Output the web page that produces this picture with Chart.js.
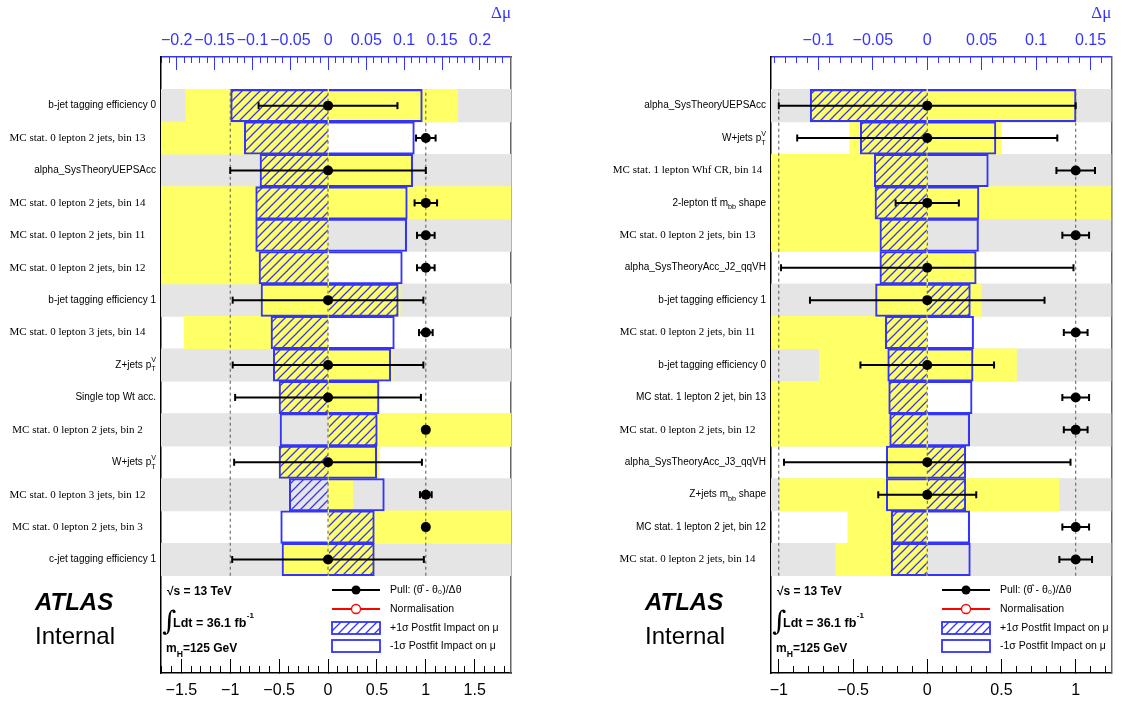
<!DOCTYPE html>
<html><head><meta charset="utf-8">
<script src="https://cdn.jsdelivr.net/npm/chart.js@4.4.1/dist/chart.umd.min.js"></script>
<style>
html,body{margin:0;padding:0;background:#fff;}
body{width:1126px;height:704px;position:relative;overflow:hidden;}
canvas{position:absolute;top:0;}
#c1{left:0}
#c2{left:563px}
</style></head><body>
<canvas id="c1" width="563" height="704"></canvas>
<canvas id="c2" width="563" height="704"></canvas>
<script>
// ---------------- DATA ----------------
const leftLabels = ['b-jet tagging efficiency 0', 'MC stat. 0 lepton 2 jets, bin 13', 'alpha_SysTheoryUEPSAcc',
  'MC stat. 0 lepton 2 jets, bin 14', 'MC stat. 0 lepton 2 jets, bin 11', 'MC stat. 0 lepton 2 jets, bin 12',
  'b-jet tagging efficiency 1', 'MC stat. 0 lepton 3 jets, bin 14', 'Z+jets p_{T}^{V}', 'Single top Wt acc.',
  'MC stat. 0 lepton 2 jets, bin 2', 'W+jets p_{T}^{V}', 'MC stat. 0 lepton 3 jets, bin 12',
  'MC stat. 0 lepton 2 jets, bin 3', 'c-jet tagging efficiency 1'];
const leftImpactUp   = [-0.1288, -0.1108, -0.0901, -0.0958, -0.0958, -0.0914, 0.0923, -0.0756, -0.0726, -0.0650, 0.0646, -0.0650, -0.0515, 0.0607, 0.0607];
const leftImpactDown = [0.1240, 0.1135, 0.1113, 0.1042, 0.1034, 0.0976, -0.0888, 0.0871, 0.0823, 0.0669, -0.0637, 0.0639, 0.0739, -0.0628, -0.0611];
const leftPrefitLow  = [-0.1881, -0.30, -0.0901, -0.30, -0.30, -0.30, -0.0888, -0.1900, -0.0726, -0.0650, 0, -0.0650, 0, 0, -0.0611];
const leftPrefitHigh = [0.1707, 0, 0.1113, 0.30, 0, 0, 0.0946, 0, 0.0844, 0.0669, 0.30, 0.0669, 0.0322, 0.30, 0.0607];
const leftPull       = [0, 1, 0, 1, 1, 1, 0, 1, 0, 0, 1, 0, 1, 1, 0];
const leftPullErr    = [0.71, 0.10, 1.0, 0.115, 0.09, 0.09, 0.975, 0.07, 0.975, 0.95, 0, 0.96, 0.06, 0, 0.98];
const leftMuTicks    = [-0.2, -0.15, -0.1, -0.05, 0, 0.05, 0.1, 0.15, 0.2];
const leftPullTicks  = [-1.5, -1, -0.5, 0, 0.5, 1, 1.5];

const rightLabels = ['alpha_SysTheoryUEPSAcc', 'W+jets p_{T}^{V}', 'MC stat. 1 lepton Whf CR, bin 14',
  '2-lepton t#bar{t} m_{bb} shape', 'MC stat. 0 lepton 2 jets, bin 13', 'alpha_SysTheoryAcc_J2_qqVH',
  'b-jet tagging efficiency 1', 'MC stat. 0 lepton 2 jets, bin 11', 'b-jet tagging efficiency 0',
  'MC stat. 1 lepton 2 jet, bin 13', 'MC stat. 0 lepton 2 jets, bin 12', 'alpha_SysTheoryAcc_J3_qqVH',
  'Z+jets m_{bb} shape', 'MC stat. 1 lepton 2 jet, bin 12', 'MC stat. 0 lepton 2 jets, bin 14'];
const rightImpactUp   = [-0.1075, -0.0615, -0.0486, -0.0480, -0.0435, -0.0435, 0.0396, -0.0385, -0.0363, -0.0354, -0.0345, 0.0354, 0.0354, -0.0331, -0.0331];
const rightImpactDown = [0.1367, 0.0631, 0.0561, 0.0475, 0.0471, 0.0450, -0.0475, 0.0426, 0.0421, 0.0412, 0.0390, -0.0376, -0.0376, 0.0390, 0.0396];
const rightPrefitLow  = [-0.1075, -0.0712, -0.30, -0.30, -0.30, -0.0435, -0.0480, -0.30, -0.0991, -0.30, -0.30, -0.0376, -0.1351, -0.0730, -0.0840];
const rightPrefitHigh = [0.1367, 0.0682, 0, 0.30, 0, 0.0450, 0.0495, 0, 0.0820, 0, 0, 0.0354, 0.1210, 0, 0];
const rightPull       = [0, 0, 1, 0, 1, 0, 0, 1, 0, 1, 1, 0, 0, 1, 1];
const rightPullErr    = [1.0, 0.876, 0.13, 0.213, 0.09, 0.985, 0.79, 0.08, 0.45, 0.09, 0.08, 0.965, 0.33, 0.09, 0.11];
const rightMuTicks    = [-0.1, -0.05, 0, 0.05, 0.1, 0.15];
const rightPullTicks  = [-1, -0.5, 0, 0.5, 1];

const pullRefLines = [-1, 0, 1];

// ---------------- STYLE ----------------
const ROWS = 15;
const BLUE = 'rgb(52,52,250)';
const YELLOW = '#ffff66';
const GRAY = '#e5e5e5';
Chart.defaults.font.family = 'Liberation Sans';

const panels = {
  c1: { labels: leftLabels, up: leftImpactUp, down: leftImpactDown, pLo: leftPrefitLow, pHi: leftPrefitHigh,
        pull: leftPull, err: leftPullErr, muTicks: leftMuTicks, pullTicks: leftPullTicks,
        muRange: [-0.2207, 0.2410], pullRange: [-1.708, 1.871], plotLeft: 161, padRight: 52,
        serifRows: [1, 3, 4, 5, 7, 10, 12, 13] },
  c2: { labels: rightLabels, up: rightImpactUp, down: rightImpactDown, pLo: rightPrefitLow, pHi: rightPrefitHigh,
        pull: rightPull, err: rightPullErr, muTicks: rightMuTicks, pullTicks: rightPullTicks,
        muRange: [-0.1435, 0.1691], pullRange: [-1.0525, 1.240], plotLeft: 208, padRight: 8,
        serifRows: [2, 4, 7, 10, 14] }
};

function rowY(i) { return ROWS - 0.5 - i; }
function fmt(v) { return String(+(+v).toFixed(3)).replace('-', '\u2212'); }
function minorTicks(min, max, step) {
  const out = [];
  for (let k = Math.ceil(min / step - 1e-9); k <= Math.floor(max / step + 1e-9); k++) out.push({ value: +(k * step).toFixed(4) });
  return out;
}

function hatchPattern(ctx) {
  const s = 9;
  const t = document.createElement('canvas'); t.width = s; t.height = s;
  const g = t.getContext('2d');
  g.strokeStyle = BLUE; g.lineWidth = 1.25;
  g.beginPath();
  g.moveTo(0, s); g.lineTo(s, 0);
  g.moveTo(-1, 1); g.lineTo(1, -1);
  g.moveTo(s - 1, s + 1); g.lineTo(s + 1, s - 1);
  g.stroke();
  return ctx.createPattern(t, 'repeat');
}

function parseRich(str) {
  const out = []; const re = /(_\{[^}]*\}|\^\{[^}]*\}|#bar\{[^}]*\})/g;
  let last = 0, m;
  while ((m = re.exec(str))) {
    if (m.index > last) out.push({ k: 'n', t: str.slice(last, m.index) });
    const tok = m[0];
    if (tok[0] === '_') out.push({ k: 'sub', t: tok.slice(2, -1) });
    else if (tok[0] === '^') out.push({ k: 'sup', t: tok.slice(2, -1) });
    else out.push({ k: 'bar', t: tok.slice(5, -1) });
    last = re.lastIndex;
  }
  if (last < str.length) out.push({ k: 'n', t: str.slice(last) });
  return out;
}
function drawRich(ctx, str, xRef, y, align, family, size, weight) {
  const segs = parseRich(str);
  const small = size * 0.72;
  const w0 = weight ? weight + ' ' : '';
  const fN = w0 + size + 'px "' + family + '"', fS = w0 + small + 'px "' + family + '"';
  const items = []; let x = 0;
  const dyOf = k => k === 'sub' ? size * 0.45 : -size * 0.45;
  for (let i = 0; i < segs.length; i++) {
    const s = segs[i];
    if (s.k === 'sub' || s.k === 'sup') {
      ctx.font = fS; let w = ctx.measureText(s.t).width;
      items.push({ t: s.t, x, dy: dyOf(s.k), f: fS });
      const nx = segs[i + 1];
      if (nx && (nx.k === 'sub' || nx.k === 'sup') && nx.k !== s.k) {
        const w2 = ctx.measureText(nx.t).width;
        items.push({ t: nx.t, x, dy: dyOf(nx.k), f: fS });
        w = Math.max(w, w2); i++;
      }
      x += w;
    } else {
      ctx.font = fN; const w = ctx.measureText(s.t).width;
      items.push({ t: s.t, x, dy: 0, f: fN, bar: s.k === 'bar', w });
      x += w;
    }
  }
  const x0 = align === 'right' ? xRef - x : align === 'center' ? xRef - x / 2 : xRef;
  ctx.textAlign = 'left'; ctx.textBaseline = 'middle';
  items.forEach(it => {
    ctx.font = it.f; ctx.fillText(it.t, x0 + it.x, y + it.dy);
    if (it.bar) ctx.fillRect(x0 + it.x + 0.5, y - size * 0.55, it.w - 1, 0.9);
  });
  return x;
}

const decor = {
  id: 'decor',
  afterDraw(chart) {
    const p = panels[chart.canvas.id];
    const ctx = chart.ctx, a = chart.chartArea, ys = chart.scales.y;
    const L = a.left, B = a.bottom;
    ctx.save();
    ctx.fillStyle = '#000';
    // row labels
    p.labels.forEach((lab, i) => {
      const y = ys.getPixelForValue(rowY(i));
      if (p.serifRows.includes(i)) drawRich(ctx, lab, L - 83.5, y, 'center', 'Liberation Serif', 11);
      else drawRich(ctx, lab, L - 5, y, 'right', 'Liberation Sans', 10);
    });
    // ATLAS Internal
    ctx.textAlign = 'left'; ctx.textBaseline = 'alphabetic';
    ctx.font = 'italic bold 24px "Liberation Sans"';
    ctx.fillText('ATLAS', L - 126, B - 63);
    ctx.font = '24px "Liberation Sans"';
    ctx.fillText('Internal', L - 126, B - 29);
    // info block
    ctx.textBaseline = 'middle';
    ctx.font = 'bold 12px "Liberation Sans"';
    ctx.fillText('\u221As = 13 TeV', L + 6, B - 81);
    ctx.font = '27px "DejaVu Serif"';
    ctx.fillText('\u222B', L + 1, B - 50);
    ctx.font = 'bold 12.5px "Liberation Sans"';
    ctx.fillText('Ldt = 36.1 fb', L + 12, B - 49);
    const wl = ctx.measureText('Ldt = 36.1 fb').width;
    ctx.font = 'bold 8px "Liberation Sans"';
    ctx.fillText('-1', L + 12 + wl + 0.5, B - 57);
    drawRich(ctx, 'm_{H}=125 GeV', L + 5, B - 24, 'left', 'Liberation Sans', 12, 'bold');
    // legend
    const lx = L + 171, lw = 48, tx = L + 229;
    ctx.lineWidth = 2;
    ctx.strokeStyle = '#000';
    ctx.beginPath(); ctx.moveTo(lx, B - 83); ctx.lineTo(lx + lw, B - 83); ctx.stroke();
    ctx.beginPath(); ctx.arc(lx + 24, B - 83, 4.5, 0, Math.PI * 2); ctx.fill();
    ctx.strokeStyle = '#ff0000';
    ctx.beginPath(); ctx.moveTo(lx, B - 64); ctx.lineTo(lx + lw, B - 64); ctx.stroke();
    ctx.fillStyle = '#fff';
    ctx.beginPath(); ctx.arc(lx + 24, B - 64, 4.5, 0, Math.PI * 2); ctx.fill(); ctx.lineWidth = 1.3; ctx.stroke();
    ctx.fillStyle = chart.$hatch;
    ctx.fillRect(lx, B - 51, lw, 12);
    ctx.strokeStyle = BLUE; ctx.lineWidth = 1.8;
    ctx.strokeRect(lx, B - 51, lw, 12);
    ctx.strokeRect(lx, B - 33, lw, 12);
    ctx.fillStyle = '#000';
    ctx.font = '10.5px "Liberation Sans"';
    ctx.textAlign = 'left';
    ctx.fillText('Pull: (\u03B8\u0302 - \u03B8\u2080)/\u0394\u03B8', tx, B - 83);
    ctx.fillText('Normalisation', tx, B - 64);
    ctx.fillText('+1\u03C3 Postfit Impact on \u03BC', tx, B - 45);
    ctx.fillText('-1\u03C3 Postfit Impact on \u03BC', tx, B - 27);
    ctx.restore();
  }
};

function buildPanel(id) {
  const p = panels[id];
  const canvas = document.getElementById(id);
  const hatch = hatchPattern(canvas.getContext('2d'));
  const n = p.labels.length;
  const bg = [];
  for (let i = 0; i < n; i += 2) bg.push({ x: [-5, 5], y: rowY(i) });
  const yellow = p.pLo.map((v, i) => ({ x: [v, p.pHi[i]], y: rowY(i) }));
  const up = p.up.map((v, i) => ({ x: [0, v], y: rowY(i) }));
  const down = p.down.map((v, i) => ({ x: [0, v], y: rowY(i) }));
  const pts = p.pull.map((v, i) => ({ x: v, y: rowY(i) }));
  const errs = [];
  p.pull.forEach((v, i) => {
    const e = p.err[i];
    if (e > 0) errs.push({ x: v - e, y: rowY(i) }, { x: v + e, y: rowY(i) }, { x: null, y: rowY(i) });
  });
  const dash = [];
  pullRefLines.forEach(v => dash.push({ x: v, y: 0 }, { x: v, y: ROWS }, { x: null, y: ROWS }));

  const barCommon = { type: 'bar', xAxisID: 'xmu', yAxisID: 'y', grouped: false, barPercentage: 1,
    categoryPercentage: 1, borderSkipped: false, clip: 0 };
  const lineCommon = { type: 'line', xAxisID: 'xpull', yAxisID: 'y' };
  const [mMin, mMax] = p.muRange, [pMin, pMax] = p.pullRange;

  const chart = new Chart(canvas, {
    type: 'bar',
    data: { datasets: [
      Object.assign({}, barCommon, { label: 'bg', data: bg, backgroundColor: GRAY, borderWidth: 0, order: 10 }),
      Object.assign({}, barCommon, { label: 'prefit', data: yellow, backgroundColor: YELLOW, borderWidth: 0, order: 9 }),
      Object.assign({}, barCommon, { label: '+1σ Postfit Impact on μ', data: up, backgroundColor: hatch, borderColor: BLUE, borderWidth: 1.4, borderSkipped: 'start', order: 8 }),
      Object.assign({}, barCommon, { label: '-1σ Postfit Impact on μ', data: down, backgroundColor: 'rgba(0,0,0,0)', borderColor: BLUE, borderWidth: 1.4, borderSkipped: 'start', order: 7 }),
      Object.assign({}, lineCommon, { label: 'ref', data: dash, borderColor: '#555', borderWidth: 1, borderDash: [3, 3], pointRadius: 0, order: 6 }),
      Object.assign({}, lineCommon, { label: 'err', data: errs, borderColor: '#000', borderWidth: 2, pointStyle: 'line', pointRotation: 90, pointRadius: 3.5, pointBorderColor: '#000', pointBorderWidth: 2, order: 5 }),
      Object.assign({}, lineCommon, { label: 'Pull', data: pts, showLine: false, pointRadius: 5, pointBackgroundColor: '#000', pointBorderColor: '#000', pointBorderWidth: 0, order: 4 })
    ] },
    options: {
      responsive: false, animation: false, indexAxis: 'y', events: [], devicePixelRatio: 1,
      layout: { padding: { left: 0, top: 0, bottom: 0, right: p.padRight } },
      plugins: { legend: { display: false }, tooltip: { enabled: false } },
      scales: {
        xmu: { type: 'linear', position: 'top', min: mMin, max: mMax, weight: 10,
          afterBuildTicks: ax => { ax.ticks = p.muTicks.map(v => ({ value: v })); },
          afterFit: ax => { ax.height = 57; },
          ticks: { autoSkip: false, maxRotation: 0, color: BLUE, font: { size: 16 }, padding: 19.4, callback: v => fmt(v) },
          grid: { drawOnChartArea: false, drawTicks: true, tickLength: -13, tickColor: BLUE, tickWidth: 1 },
          border: { display: true, color: BLUE, width: 1.5 },
          title: { display: true, text: '\u0394\u03BC', align: 'end', color: BLUE, font: { family: 'Liberation Serif', size: 17 }, padding: { top: 3, bottom: 0 } }
        },
        xmuMinor: { type: 'linear', position: 'top', min: mMin, max: mMax, weight: 0,
          afterBuildTicks: ax => { ax.ticks = minorTicks(mMin, mMax, 0.01); },
          afterFit: ax => { ax.height = 0; },
          ticks: { display: false },
          grid: { drawOnChartArea: false, drawTicks: true, tickLength: -6, tickColor: BLUE, tickWidth: 1 },
          border: { display: false }
        },
        xpull: { type: 'linear', position: 'bottom', min: pMin, max: pMax, weight: 10,
          afterBuildTicks: ax => { ax.ticks = p.pullTicks.map(v => ({ value: v })); },
          afterFit: ax => { ax.height = 704 - 673; },
          ticks: { autoSkip: false, maxRotation: 0, color: '#000', font: { size: 16 }, padding: 22.4, callback: v => fmt(v) },
          grid: { drawOnChartArea: false, drawTicks: true, tickLength: -14, tickColor: '#000', tickWidth: 1 },
          border: { display: true, color: '#000', width: 1.5 }
        },
        xpullMinor: { type: 'linear', position: 'bottom', min: pMin, max: pMax, weight: 0,
          afterBuildTicks: ax => { ax.ticks = minorTicks(pMin, pMax, 0.1); },
          afterFit: ax => { ax.height = 0; },
          ticks: { display: false },
          grid: { drawOnChartArea: false, drawTicks: true, tickLength: -7, tickColor: '#000', tickWidth: 1 },
          border: { display: false }
        },
        y: { type: 'linear', position: 'left', min: -3, max: 16, offset: false,
          afterFit: ax => { ax.width = p.plotLeft; },
          ticks: { display: false, stepSize: 1 },
          grid: { display: false, offset: false },
          border: { display: true, color: '#000', width: 1.5 }
        },
        yr: { type: 'linear', position: 'right', min: -3, max: 16, offset: false,
          afterFit: ax => { ax.width = 0; },
          ticks: { display: false },
          grid: { display: false, offset: false },
          border: { display: true, color: '#666', width: 1.5 }
        }
      }
    },
    plugins: [decor]
  });
  chart.$hatch = hatch;
  chart.draw();
  return chart;
}

buildPanel('c1');
buildPanel('c2');
</script>
</body></html>
